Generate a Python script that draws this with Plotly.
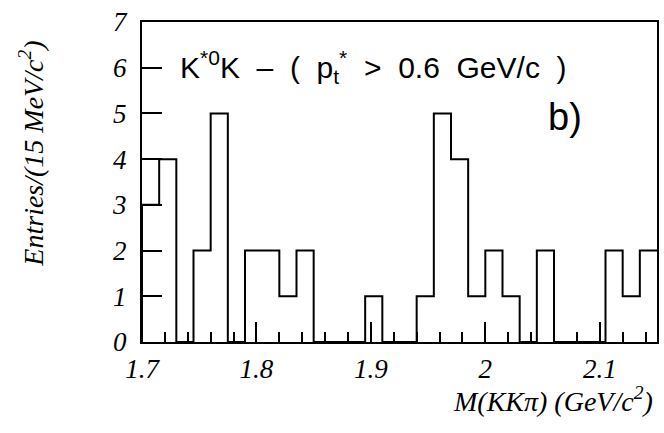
import plotly.graph_objects as go

# Histogram data: 15 MeV bins from 1.70 to 2.15 GeV/c^2
bin_start = 1.70
bin_width = 0.015
counts = [3, 4, 0, 2, 5, 0, 2, 2, 1, 2,
          0, 0, 0, 1, 0, 0, 1, 5, 4, 1,
          2, 1, 0, 2, 0, 0, 0, 2, 1, 2]

x_ticks = [1.7, 1.8, 1.9, 2.0, 2.1]
x_tick_labels = ["1.7", "1.8", "1.9", "2", "2.1"]
y_ticks = [0, 1, 2, 3, 4, 5, 6, 7]

edges = [round(bin_start + i * bin_width, 4) for i in range(len(counts) + 1)]
xs = [edges[0]] + edges
ys = [0] + counts + [counts[-1]]

fig = go.Figure()
fig.add_trace(go.Scatter(x=xs, y=ys, mode="lines", line=dict(shape="hv", color="black", width=2),
                         showlegend=False, hoverinfo="skip"))

serif_it = dict(family="Liberation Serif", size=27, color="black", style="italic")

fig.update_layout(
    width=664, height=433,
    margin=dict(l=142, r=5, t=22, b=91),
    paper_bgcolor="white", plot_bgcolor="white",
    xaxis=dict(range=[1.7, 2.15], tickvals=x_ticks, ticktext=x_tick_labels,
               ticks="inside", ticklen=20, tickwidth=2, tickcolor="black",
               minor=dict(dtick=0.02, tick0=1.7, ticks="inside", ticklen=10, tickwidth=1.5, tickcolor="black"),
               showline=True, linecolor="black", linewidth=2, mirror=True,
               showgrid=False, zeroline=False, tickfont=serif_it, ticklabelstandoff=2),
    yaxis=dict(range=[0, 7], tickvals=y_ticks,
               ticks="inside", ticklen=20, tickwidth=2, tickcolor="black",
               showline=True, linecolor="black", linewidth=2, mirror=True,
               showgrid=False, zeroline=False, tickfont=serif_it, ticklabelstandoff=8),
)

fig.add_annotation(xref="paper", yref="paper", x=-0.2147, y=0.59,
                   text="Entries/(15 MeV/c<sup>2</sup>)", textangle=-90, showarrow=False,
                   xanchor="center", yanchor="middle", font=dict(serif_it, size=28))
fig.add_annotation(xref="paper", yref="paper", x=0.996, y=-0.181,
                   text="M(KKπ) (GeV/c<sup>2</sup>)", showarrow=False,
                   xanchor="right", yanchor="middle", font=dict(serif_it, size=28))
fig.add_annotation(xref="paper", yref="paper", x=0.0696, y=0.859,
                   text="K<sup>*0</sup>K&nbsp; –&nbsp; (&nbsp; p<sub>t</sub><sup>*</sup>&nbsp; >&nbsp; 0.6&nbsp; GeV/c&nbsp; )",
                   showarrow=False, xanchor="left", yanchor="middle",
                   font=dict(family="Liberation Sans", size=30, color="black"))
fig.add_annotation(xref="paper", yref="paper", x=0.785, y=0.703,
                   text="b)", showarrow=False, xanchor="left", yanchor="middle",
                   font=dict(family="Liberation Sans", size=38, color="black"))

fig.write_html("out.html")
